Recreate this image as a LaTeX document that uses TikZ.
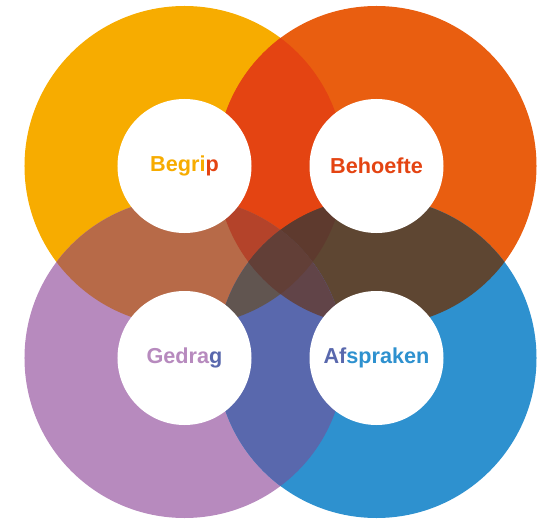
\documentclass[tikz,border=0pt]{standalone}
\usepackage{fontspec}
\usepackage{xcolor}
\usepackage{tikz}
\usetikzlibrary{
  positioning,
  shapes}
\newfontfamily\labelfont{Liberation Sans}
\definecolor{ctl}{HTML}{F7AC00}
\definecolor{ctr}{HTML}{E95E10}
\definecolor{cbl}{HTML}{B78ABE}
\definecolor{cbr}{HTML}{2E91CF}
\definecolor{ctltr}{HTML}{E44412}
\definecolor{ctlbl}{HTML}{B76A48}
\definecolor{ctrbr}{HTML}{5E4632}
\definecolor{cblbr}{HTML}{5968AD}
\definecolor{ctltrbl}{HTML}{B4432A}
\definecolor{ctltrbr}{HTML}{5E3A2E}
\definecolor{ctlblbr}{HTML}{615550}
\definecolor{ctrblbr}{HTML}{614448}
\definecolor{call}{HTML}{623F37}
\def\bigr{4cm}
\tikzset{hole/.style={circle, fill=white, minimum size=3.35cm, inner sep=0pt},
         word/.style={font=\labelfont\bfseries\fontsize{15.4}{18}\selectfont, text=#1}
        }

\begin{document}
\begin{tikzpicture}
\useasboundingbox (-7.0125,-6.5) rectangle (6.5625,6.55);
\coordinate (zero) at (0,0);
\coordinate[above left = 2.4cm and 2.4cm of zero](nw);
\coordinate[above right = 2.4cm and 2.4cm of zero](ne);
\coordinate[below left = 2.4cm and 2.4cm of zero](sw);
\coordinate[below right = 2.4cm and 2.4cm of zero](se);

% the four big circles
\fill[ctl] (nw) circle (\bigr);
\fill[ctr] (ne) circle (\bigr);
\fill[cbl] (sw) circle (\bigr);
\fill[cbr] (se) circle (\bigr);

% overlaps of two
\begin{scope}
\clip (nw) circle (\bigr);
\fill[ctltr] (ne) circle (\bigr);
\fill[ctlbl] (sw) circle (\bigr);
\end{scope}
\begin{scope}
\clip (se) circle (\bigr);
\fill[ctrbr] (ne) circle (\bigr);
\fill[cblbr] (sw) circle (\bigr);
\end{scope}

% overlaps of three
\begin{scope}
\clip (nw) circle (\bigr);
\clip (ne) circle (\bigr);
\fill[ctltrbl] (sw) circle (\bigr);
\fill[ctltrbr] (se) circle (\bigr);
\end{scope}
\begin{scope}
\clip (sw) circle (\bigr);
\clip (se) circle (\bigr);
\fill[ctlblbr] (nw) circle (\bigr);
\fill[ctrblbr] (ne) circle (\bigr);
\end{scope}

% all four
\begin{scope}
\clip (nw) circle (\bigr);
\clip (ne) circle (\bigr);
\clip (sw) circle (\bigr);
\fill[call] (se) circle (\bigr);
\end{scope}

% white holes with the words
\node[hole, word=ctl](begrip) at (nw){Begri\textcolor{ctltr}{p}};
\node[hole, word=ctltr](behoefte) at (ne){Behoefte};
\node[hole, word=cbl](gedrag) at (sw){Gedra\textcolor{cblbr}{g}};
\node[hole, word=cbr](afspraken) at (se){\textcolor{cblbr}{Af}spraken};
\end{tikzpicture}
\end{document}
